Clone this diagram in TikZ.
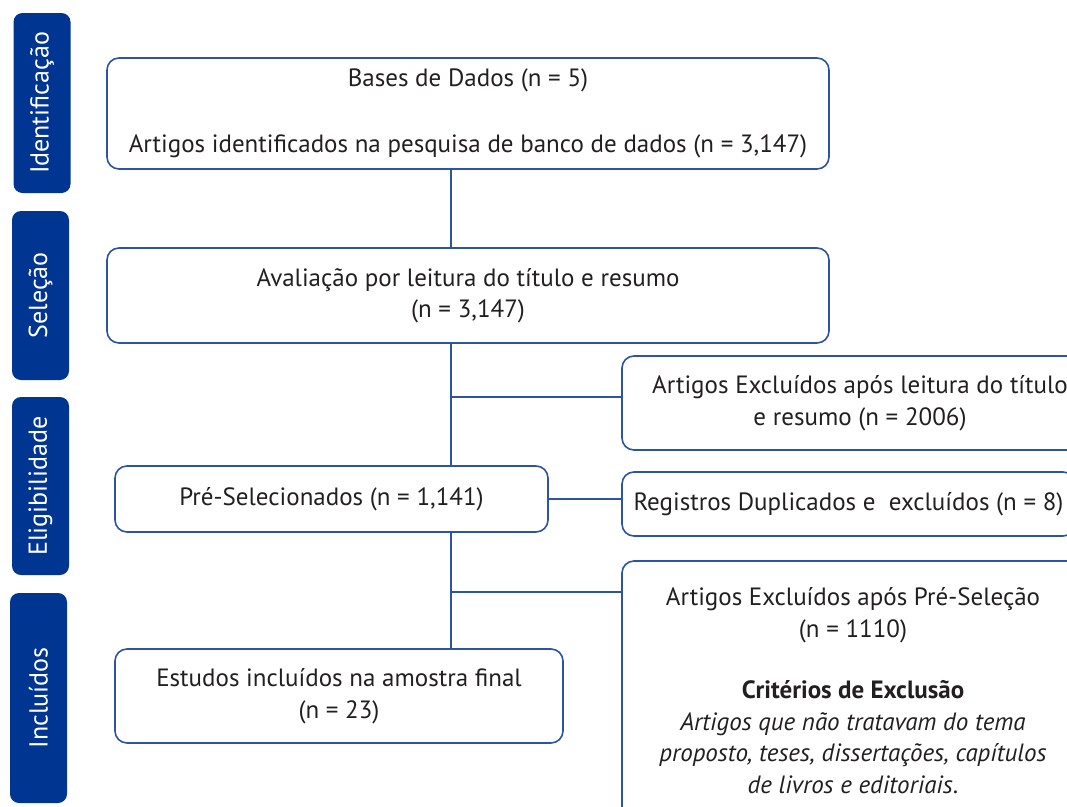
\documentclass[tikz,border=0pt]{standalone}
\usepackage{fontspec}
\setmainfont{PT Sans}

\definecolor{faseazul}{RGB}{0,53,145}
\definecolor{linhaazul}{RGB}{44,84,164}
\definecolor{textocinza}{RGB}{35,31,32}

\tikzset{
	fase/.style={fill=faseazul, rounded corners=9pt, text=white, rotate=90, inner sep=0pt, minimum height=57pt, font=\fontsize{26}{30}\selectfont},
	caixa/.style={draw=linhaazul, line width=1.6pt, rounded corners=12pt, align=center, inner sep=0pt, text=textocinza, font=\fontsize{25}{31.5}\selectfont},
	liga/.style={draw=linhaazul, line width=1.6pt},
}

\begin{document}
\begin{tikzpicture}[x=1pt,y=1pt,yscale=-1]
	\clip (0,0) rectangle (1067,806);
	% fases
	\node[fase, minimum width=180pt] (ident) at (42,103) {Identificação};
	\node[fase, minimum width=169pt] (selec) at (40.5,295.5) {Seleção};
	\node[fase, minimum width=178pt] (eleg) at (40.5,486) {Eligibilidade};
	\node[fase, minimum width=210pt] (inclu) at (38.5,698) {Incluídos};
	% caixas principais
	\node[caixa, minimum width=722pt, minimum height=111pt] (bases) at (468,113.5) {Bases de Dados (n = 5)\\[35pt]Artigos identificados na pesquisa de banco de dados (n = 3,147)};
	\node[caixa, minimum width=722pt, minimum height=95pt] (aval) at (468,295.5) {Avaliação por leitura do título e resumo\\(n = 3,147)};
	\node[caixa, minimum width=433pt, minimum height=66pt] (presel) at (331.5,499) {Pré-Selecionados (n = 1,141)};
	\node[caixa, minimum width=448pt, minimum height=94pt] (estudos) at (339,696) {Estudos incluídos na amostra final\\(n = 23)};
	% caixas de exclusao
	\node[caixa, minimum width=476pt, minimum height=94pt] (exclA) at (860,403) {Artigos Excluídos após leitura do título\\e resumo (n = 2006)};
	\node[caixa, minimum width=453pt, minimum height=64pt] (dupl) at (848.5,504) {Registros Duplicados e\ \ excluídos (n = 8)};
	\node[caixa, minimum width=462pt, minimum height=259pt] (exclC) at (853,690.5) {Artigos Excluídos após Pré-Seleção\\(n = 1110)\\[30pt]\textbf{Critérios de Exclusão}\\\textit{Artigos que não tratavam do tema}\\\textit{proposto, teses, dissertações, capítulos}\\\textit{de livros e editoriais}.};
	% ligacoes
	\coordinate (eixo) at (451,0);
	\draw[liga] (bases.south -| eixo) -- (aval.north -| eixo);
	\draw[liga] (aval.south -| eixo) -- (presel.north -| eixo);
	\draw[liga] (presel.south -| eixo) -- (estudos.north -| eixo);
	\coordinate (ramoA) at (451,397);
	\draw[liga] (ramoA) -- (ramoA -| exclA.west);
	\draw[liga] (presel.east) -- (presel.east -| dupl.west);
	\coordinate (ramoC) at (451,592);
	\draw[liga] (ramoC) -- (ramoC -| exclC.west);
\end{tikzpicture}
\end{document}
